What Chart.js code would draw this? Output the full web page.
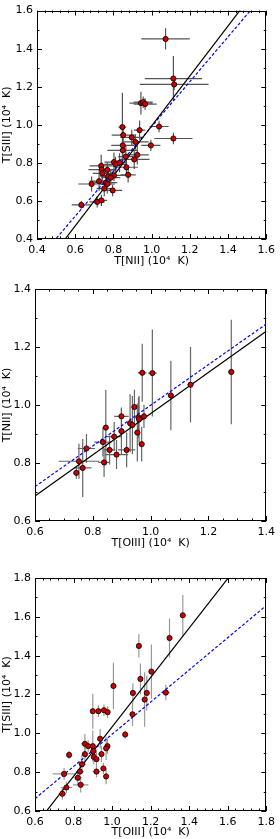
<!DOCTYPE html>
<html>
<head>
<meta charset="utf-8">
<script src="https://cdn.jsdelivr.net/npm/chart.js@4"></script>
<style>
  html, body { margin: 0; padding: 0; background: #fff; }
  #wrap { position: relative; width: 280px; height: 839px; }
  canvas { position: absolute; left: 0; }
</style>
</head>
<body>
<div id="wrap">
  <canvas id="c1" width="280" height="268" style="top:0px"></canvas>
  <canvas id="c2" width="280" height="282" style="top:268px"></canvas>
  <canvas id="c3" width="280" height="289" style="top:550px"></canvas>
</div>
<script>
// --- Panel 1: T[NII] vs T[SIII] ---
const n2A = [1.073, 1.114, 1.118, 0.944, 0.956, 0.966, 0.847, 0.851, 0.896, 0.937, 1.039, 1.114, 0.915, 0.996,
  0.849, 0.849, 0.865, 0.868, 0.877, 0.909, 0.925, 0.803, 0.811, 0.832, 0.736, 0.739, 0.742, 0.768, 0.772, 0.803,
  0.786, 0.760, 0.768, 0.725, 0.686, 0.752, 0.796, 0.632, 0.715, 0.737];
const s3A = [1.451, 1.243, 1.212, 1.114, 1.119, 1.109, 0.988, 0.946, 0.934, 0.972, 0.991, 0.928, 0.910, 0.892,
  0.892, 0.866, 0.833, 0.777, 0.737, 0.818, 0.842, 0.804, 0.792, 0.801, 0.784, 0.765, 0.745, 0.763, 0.729, 0.734,
  0.722, 0.696, 0.689, 0.704, 0.689, 0.665, 0.655, 0.579, 0.595, 0.603];
const n2AErr = [0.127, 0.15, 0.18, 0.06, 0.05, 0.06, 0.02, 0.06, 0.06, 0.03, 0.05, 0.10, 0.07, 0.05,
  0.06, 0.08, 0.04, 0.06, 0.04, 0.08, 0.06, 0.05, 0.06, 0.04, 0.06, 0.07, 0.05, 0.05, 0.04, 0.06,
  0.05, 0.06, 0.04, 0.05, 0.07, 0.04, 0.05, 0.05, 0.04, 0.03];
const s3AErr = [0.056, 0.118, 0.03, 0.06, 0.03, 0.03, 0.18, 0.03, 0.04, 0.05, 0.03, 0.03, 0.04, 0.03,
  0.04, 0.05, 0.06, 0.04, 0.04, 0.05, 0.05, 0.05, 0.04, 0.05, 0.06, 0.04, 0.04, 0.04, 0.05, 0.03,
  0.04, 0.04, 0.05, 0.05, 0.04, 0.04, 0.03, 0.02, 0.03, 0.03];
const fitA = [1.313, -0.319];      // black: slope, intercept
const fitABlue = [1.178, -0.187];  // blue dashed

// --- Panel 2: T[OIII] vs T[NII] ---
const o3B = [0.899, 0.944, 0.958, 0.971, 0.977, 1.006, 1.070, 1.138, 1.279, 0.845, 0.874, 0.899, 0.929,
  0.937, 0.954, 0.969, 0.835, 0.858, 0.882, 0.917, 0.839, 0.778, 0.752, 0.765, 0.743, 0.960];
const n2B = [0.961, 0.993, 0.957, 1.111, 0.961, 1.110, 1.033, 1.070, 1.114, 0.922, 0.891, 0.910, 0.937,
  0.931, 0.905, 0.865, 0.872, 0.845, 0.829, 0.845, 0.802, 0.850, 0.806, 0.783, 0.766, 0.951];
const o3BErr = [0.025, 0.01, 0.01, 0.015, 0.01, 0.015, 0.01, 0.01, 0.01, 0.01, 0.025, 0.01, 0.01,
  0.01, 0.01, 0.01, 0.03, 0.02, 0.04, 0.03, 0.02, 0.03, 0.07, 0.03, 0.01, 0.01];
const n2BErr = [0.03, 0.06, 0.07, 0.10, 0.04, 0.15, 0.12, 0.13, 0.18, 0.13, 0.05, 0.08, 0.10,
  0.10, 0.10, 0.06, 0.05, 0.05, 0.05, 0.06, 0.05, 0.05, 0.06, 0.10, 0.02, 0.08];
const fitB = [0.71, 0.26];
const fitBBlue = [0.701, 0.298];

// --- Panel 3: T[OIII] vs T[SIII] ---
const o3C = [1.367, 1.298, 1.139, 1.204, 1.147, 1.007, 1.108, 1.180, 1.279, 1.169, 0.900, 0.929, 0.958, 0.977,
  1.106, 1.068, 0.938, 0.859, 0.876, 0.900, 0.976, 0.969, 0.902, 0.859, 0.945, 0.777, 0.905, 0.919, 0.844,
  0.955, 0.833, 0.919, 0.969, 0.751, 0.822, 0.837, 0.763, 0.742];
const s3C = [1.608, 1.491, 1.450, 1.318, 1.280, 1.244, 1.208, 1.208, 1.210, 1.174, 1.114, 1.114, 1.119, 1.109,
  1.098, 0.994, 0.972, 0.946, 0.934, 0.934, 0.934, 0.923, 0.908, 0.893, 0.893, 0.889, 0.879, 0.867, 0.841,
  0.819, 0.803, 0.803, 0.778, 0.791, 0.771, 0.735, 0.721, 0.689];
const o3CErr = [0.01, 0.01, 0.01, 0.01, 0.01, 0.01, 0.01, 0.01, 0.02, 0.01, 0.01, 0.01, 0.01, 0.01,
  0.01, 0.01, 0.01, 0.02, 0.01, 0.01, 0.01, 0.01, 0.01, 0.01, 0.01, 0.01, 0.01, 0.01, 0.02,
  0.01, 0.02, 0.02, 0.01, 0.06, 0.02, 0.04, 0.03, 0.02];
const s3CErr = [0.105, 0.10, 0.06, 0.14, 0.08, 0.12, 0.05, 0.09, 0.04, 0.14, 0.09, 0.03, 0.03, 0.03,
  0.06, 0.02, 0.05, 0.05, 0.03, 0.08, 0.04, 0.06, 0.03, 0.04, 0.04, 0.02, 0.04, 0.05, 0.05,
  0.03, 0.05, 0.03, 0.04, 0.03, 0.04, 0.04, 0.03, 0.03];
const fitC = [1.273, -0.240];
const fitCBlue = [0.829, 0.166];

const FONT = 'DejaVu Sans';

// error bars under the markers
const errorBars = {
  id: 'errorBars',
  beforeDatasetsDraw(chart) {
    const { ctx, chartArea: a, scales: { x, y } } = chart;
    ctx.save();
    ctx.beginPath();
    ctx.rect(a.left, a.top, a.right - a.left, a.bottom - a.top);
    ctx.clip();
    chart.data.datasets.forEach(ds => {
      if (!ds.xErr) return;
      ctx.strokeStyle = ds.errColor;
      ctx.lineWidth = 1.2;
      ds.data.forEach((p, i) => {
        const px = x.getPixelForValue(p.x), py = y.getPixelForValue(p.y);
        ctx.beginPath();
        ctx.moveTo(x.getPixelForValue(p.x - ds.xErr[i]), py);
        ctx.lineTo(x.getPixelForValue(p.x + ds.xErr[i]), py);
        ctx.moveTo(px, y.getPixelForValue(p.y - ds.yErr[i]));
        ctx.lineTo(px, y.getPixelForValue(p.y + ds.yErr[i]));
        ctx.stroke();
      });
    });
    ctx.restore();
  }
};

// frame with inward major/minor ticks on all four sides
const frameTicks = {
  id: 'frameTicks',
  afterDraw(chart, args, opts) {
    const { ctx, chartArea: a, scales: { x, y } } = chart;
    ctx.save();
    ctx.strokeStyle = '#000';
    ctx.lineWidth = 1;
    const marks = (scale, minor, major, draw) => {
      const n = Math.round((scale.max - scale.min) / minor);
      const per = Math.round(major / minor);
      for (let k = 0; k <= n; k++) {
        const p = Math.round(scale.getPixelForValue(scale.min + k * minor)) + 0.5;
        draw(p, k % per === 0 ? 5 : 2.5);
      }
    };
    ctx.beginPath();
    marks(x, opts.xMinor, 0.2, (p, len) => {
      ctx.moveTo(p, a.bottom); ctx.lineTo(p, a.bottom - len);
      ctx.moveTo(p, a.top); ctx.lineTo(p, a.top + len);
    });
    marks(y, opts.yMinor, 0.2, (p, len) => {
      ctx.moveTo(a.left, p); ctx.lineTo(a.left + len, p);
      ctx.moveTo(a.right, p); ctx.lineTo(a.right - len, p);
    });
    ctx.stroke();
    ctx.strokeRect(Math.round(a.left) + 0.5, Math.round(a.top) + 0.5,
      Math.round(a.right - a.left) - 1, Math.round(a.bottom - a.top) - 1);
    ctx.restore();
  }
};

function lineData(fit, lo, hi) {
  return [lo, hi].map(v => ({ x: v, y: fit[0] * v + fit[1] }));
}

function makePanel(id, cfg) {
  const pts = cfg.xs.map((v, i) => ({ x: v, y: cfg.ys[i] }));
  new Chart(document.getElementById(id), {
    type: 'scatter',
    data: {
      datasets: [
        {
          data: pts, xErr: cfg.xErr, yErr: cfg.yErr, errColor: cfg.errColor,
          backgroundColor: '#cc0000', borderColor: '#000', borderWidth: 0.8,
          pointRadius: 2.6, order: 0
        },
        {
          data: lineData(cfg.fit, cfg.min, cfg.max), showLine: true, pointRadius: 0,
          borderColor: '#000', borderWidth: 1.2, order: 1
        },
        {
          data: lineData(cfg.fitBlue, cfg.min, cfg.max), showLine: true, pointRadius: 0,
          borderColor: '#0000ff', borderWidth: 1.2, borderDash: [3, 2], order: 2
        }
      ]
    },
    options: {
      responsive: false,
      animation: false,
      layout: { padding: { top: cfg.padTop, right: cfg.padRight, left: 0, bottom: 0 } },
      plugins: {
        legend: { display: false },
        tooltip: { enabled: false },
        frameTicks: { xMinor: cfg.xMinor, yMinor: 0.1 }
      },
      scales: {
        x: {
          type: 'linear', min: cfg.min, max: cfg.max,
          grid: { display: false, drawTicks: false }, border: { display: false },
          afterFit: s => { s.height = cfg.xAxisH; },
          ticks: {
            stepSize: 0.2, padding: 5, autoSkip: false, maxRotation: 0, color: '#000',
            font: { family: FONT, size: 11 }, callback: v => v.toFixed(1)
          },
          title: {
            display: true, text: cfg.xTitle, color: '#000', padding: 0,
            font: { family: FONT, size: 11 }
          }
        },
        y: {
          type: 'linear', min: cfg.min, max: cfg.max,
          grid: { display: false, drawTicks: false }, border: { display: false },
          afterFit: s => { s.width = cfg.yAxisW; },
          ticks: {
            stepSize: 0.2, padding: 4, color: '#000',
            font: { family: FONT, size: 11 }, callback: v => v.toFixed(1)
          },
          title: {
            display: true, text: cfg.yTitle, color: '#000', padding: { top: 1, bottom: 0 },
            font: { family: FONT, size: 11 }
          }
        }
      }
    },
    plugins: [errorBars, frameTicks]
  });
}

makePanel('c1', {
  xs: n2A, ys: s3A, xErr: n2AErr, yErr: s3AErr, errColor: '#555',
  fit: fitA, fitBlue: fitABlue, min: 0.4, max: 1.6, xMinor: 0.04,
  padTop: 5, padRight: 11, xAxisH: 29, yAxisW: 37,
  xTitle: 'T[NII] (10\u2074  K)', yTitle: 'T[SIII] (10\u2074  K)'
});
makePanel('c2', {
  xs: o3B, ys: n2B, xErr: o3BErr, yErr: n2BErr, errColor: '#666',
  fit: fitB, fitBlue: fitBBlue, min: 0.6, max: 1.4, xMinor: 0.05,
  padTop: 21, padRight: 12, xAxisH: 29, yAxisW: 35,
  xTitle: 'T[OIII] (10\u2074  K)', yTitle: 'T[NII] (10\u2074  K)'
});
makePanel('c3', {
  xs: o3C, ys: s3C, xErr: o3CErr, yErr: s3CErr, errColor: '#999',
  fit: fitC, fitBlue: fitCBlue, min: 0.6, max: 1.8, xMinor: 0.04,
  padTop: 28, padRight: 12, xAxisH: 28, yAxisW: 35,
  xTitle: 'T[OIII] (10\u2074  K)', yTitle: 'T[SIII] (10\u2074  K)'
});
</script>
</body>
</html>
